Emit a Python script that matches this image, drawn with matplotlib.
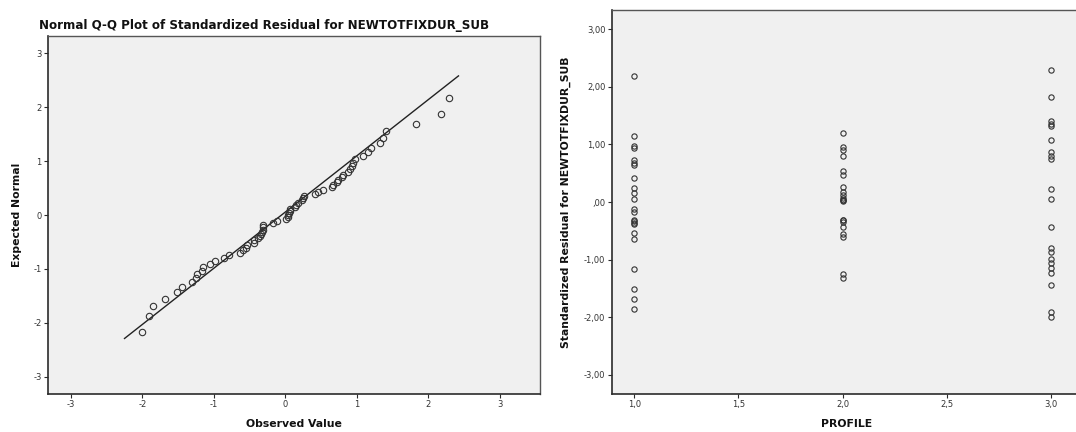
import matplotlib
matplotlib.use("Agg")
import matplotlib.pyplot as plt
import numpy as np

# standardized residuals, read per PROFILE group
resid_p1 = [2.18, 1.15, 0.97, 0.93, 0.72, 0.67, 0.65, 0.42, 0.24, 0.15, 0.06,
            -0.12, -0.18, -0.31, -0.33, -0.36, -0.38, -0.54, -0.64, -1.16,
            -1.51, -1.68, -1.85]
resid_p2 = [1.20, 0.95, 0.90, 0.79, 0.53, 0.46, 0.26, 0.18, 0.13, 0.07, 0.04,
            0.03, 0.01, -0.31, -0.32, -0.34, -0.44, -0.55, -0.60, -1.25, -1.31]
resid_p3 = [2.29, 1.82, 1.40, 1.36, 1.32, 1.08, 0.87, 0.80, 0.74, 0.23, 0.05,
            -0.44, -0.79, -0.86, -0.99, -1.06, -1.15, -1.24, -1.44, -1.91, -2.00]
profiles = [1, 2, 3]

# expected normal values (lower half), mirrored for the upper half
expected_low = [-2.17, -1.88, -1.69, -1.55, -1.43, -1.34, -1.25, -1.17, -1.10,
                -1.03, -0.97, -0.91, -0.85, -0.80, -0.75, -0.70, -0.65, -0.61,
                -0.56, -0.52, -0.47, -0.43, -0.39, -0.35, -0.31, -0.27, -0.23,
                -0.19, -0.15, -0.11, -0.08, -0.04]
expected = expected_low + [0.0] + [-v for v in expected_low[::-1]]

# fitted reference line end points
line_x = [-2.25, 2.42]
line_y = [-2.29, 2.58]

qq_ticks = [-3, -2, -1, 0, 1, 2, 3]
qq_ticklabels = ['-3', '-2', '-1', '0', '1', '2', '3']
res_yticks = [-3, -2, -1, 0, 1, 2, 3]
res_yticklabels = ['-3,00', '-2,00', '-1,00', ',00', '1,00', '2,00', '3,00']
res_xticks = [1.0, 1.5, 2.0, 2.5, 3.0]
res_xticklabels = ['1,0', '1,5', '2,0', '2,5', '3,0']

W, H = 1076, 432
fig = plt.figure(figsize=(W / 100, H / 100), dpi=100)
fig.patch.set_facecolor('white')

bg = '#f0f0f0'
ink = '#2b2b2b'


def style(ax):
    ax.set_facecolor(bg)
    for s in ax.spines.values():
        s.set_color('#555555')
        s.set_linewidth(1.0)
    ax.spines['left'].set_color(ink)
    ax.spines['bottom'].set_color(ink)
    ax.spines['left'].set_linewidth(1.2)
    ax.spines['bottom'].set_linewidth(1.2)
    ax.tick_params(direction='out', length=3, width=0.8, color=ink,
                   labelsize=6, labelcolor='#333333', pad=1.5)
    ax.tick_params(top=False, right=False)


# ---- left: Q-Q plot ----
ax1 = fig.add_axes([48 / W, 1 - 394 / H, (540 - 48) / W, (394 - 36) / H])
style(ax1)
observed = sorted(resid_p1 + resid_p2 + resid_p3)
ax1.plot(line_x, line_y, color='#222222', lw=1.0)
ax1.plot(observed, expected, linestyle='', marker='o', markersize=4.6,
         markerfacecolor='none', markeredgecolor='#333333', markeredgewidth=0.8)
ax1.set_xlim(-3.32, 3.56)
ax1.set_ylim(-3.32, 3.32)
ax1.set_xticks(qq_ticks)
ax1.set_xticklabels(qq_ticklabels)
ax1.set_yticks(qq_ticks)
ax1.set_yticklabels(qq_ticklabels)
ax1.set_xlabel('Observed Value', fontsize=7.8, fontweight='bold', color='#111111', labelpad=7)
ax1.set_ylabel('Expected Normal', fontsize=7.8, fontweight='bold', color='#111111', labelpad=8)
fig.text(264 / W, 1 - 25 / H, 'Normal Q-Q Plot of Standardized Residual for NEWTOTFIXDUR_SUB',
         ha='center', va='center', fontsize=8.6, fontweight='bold', color='#111111')

# ---- right: residual vs profile ----
ax2 = fig.add_axes([611.7 / W, 1 - 394 / H, (1082 - 611.7) / W, (394 - 10) / H])
style(ax2)
ax2.spines['right'].set_visible(False)
for p, r in zip(profiles, [resid_p1, resid_p2, resid_p3]):
    ax2.plot([p] * len(r), r, linestyle='', marker='o', markersize=3.8,
             markerfacecolor='none', markeredgecolor='#333333', markeredgewidth=0.8)
ax2.set_xlim(0.891, 3.150)
ax2.set_ylim(-3.33, 3.33)
ax2.set_xticks(res_xticks)
ax2.set_xticklabels(res_xticklabels)
ax2.set_yticks(res_yticks)
ax2.set_yticklabels(res_yticklabels)
ax2.set_xlabel('PROFILE', fontsize=7.8, fontweight='bold', color='#111111', labelpad=7)
ax2.set_ylabel('Standardized Residual for NEWTOTFIXDUR_SUB', fontsize=7.8,
               fontweight='bold', color='#111111', labelpad=9)

fig.savefig('out.png', dpi=100, facecolor='white')
